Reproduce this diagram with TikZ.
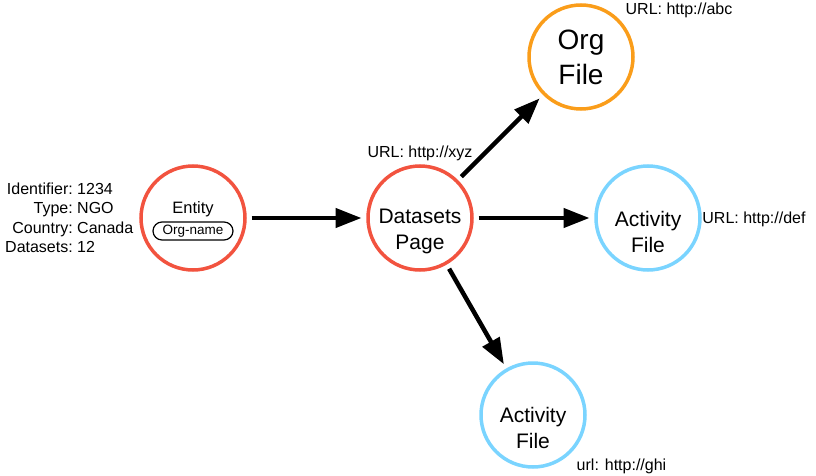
\documentclass[tikz,border=0pt]{standalone}
\usepackage{fontspec}
\setmainfont{Liberation Sans}
\usetikzlibrary{arrows.meta}
\definecolor{cred}{HTML}{F2533F}
\definecolor{corange}{HTML}{FA9D1A}
\definecolor{cblue}{HTML}{7AD4FF}
\begin{document}
\begin{tikzpicture}[x=1pt,y=-1pt,
  circ/.style={circle, draw, line width=3.5pt, minimum size=104pt, inner sep=0pt, outer sep=6.5pt},
  txt/.style={inner sep=0pt, align=center, font=\fontsize{21}{26}\selectfont},
  small/.style={inner sep=0pt, font=\fontsize{16}{19}\selectfont},
  pill/.style={draw, line width=1.2pt, rounded corners=9pt, minimum width=80pt, minimum height=18pt, inner sep=0pt, font=\fontsize{13.5}{16}\selectfont},
  arr/.style={line width=4.5pt, -{Triangle[length=26pt,width=19pt]}}
]
\useasboundingbox (0,0) rectangle (816,476);
% circles
\node[circ, cred] (entity) at (193,218) {};
\node[circ, cred] (dp) at (420,218) {};
\node[circ, corange] (org) at (581,57) {};
\node[circ, cblue] (act) at (648,218) {};
\node[circ, cblue] (act2) at (533,415) {};
% texts inside
\node[inner sep=0pt, font=\fontsize{16.5}{19}\selectfont] (entitytxt) at (193,209) {Entity};
\node[pill] (orgname) at (193,231) {Org-name};
\node[txt] (dptxt) at (420,231) {Datasets\\Page};
\node[inner sep=0pt, align=center, font=\fontsize{28}{35}\selectfont] (orgtxt) at (581,57) {Org\\File};
\node[txt] (acttxt) at (648,232) {Activity\\File};
\node[txt] (act2txt) at (533,428) {Activity\\File};
% side labels
\node[inner sep=0pt, anchor=west, font=\fontsize{16}{19.3}\selectfont] (props) at (5,219.5)
  {\renewcommand\arraystretch{1}\begin{tabular}{@{}r@{}l@{}}Identifier:&\ 1234\\Type:&\ NGO\\Country:&\ Canada\\Datasets:&\ 12\end{tabular}};
\node[small] (urlabc) at (679,10) {URL: http://abc};
\node[small] (urlxyz) at (420,153) {URL: http://xyz};
\node[small] (urldef) at (754,219) {URL: http://def};
\node[small] (urlghi) at (621.5,466) {url: http://ghi};
% arrows
\draw[arr] (entity) -- (dp);
\draw[arr] (dp) -- (act);
\draw[arr] (dp) -- (org);
\draw[arr] (dp) -- (act2);
\end{tikzpicture}
\end{document}
